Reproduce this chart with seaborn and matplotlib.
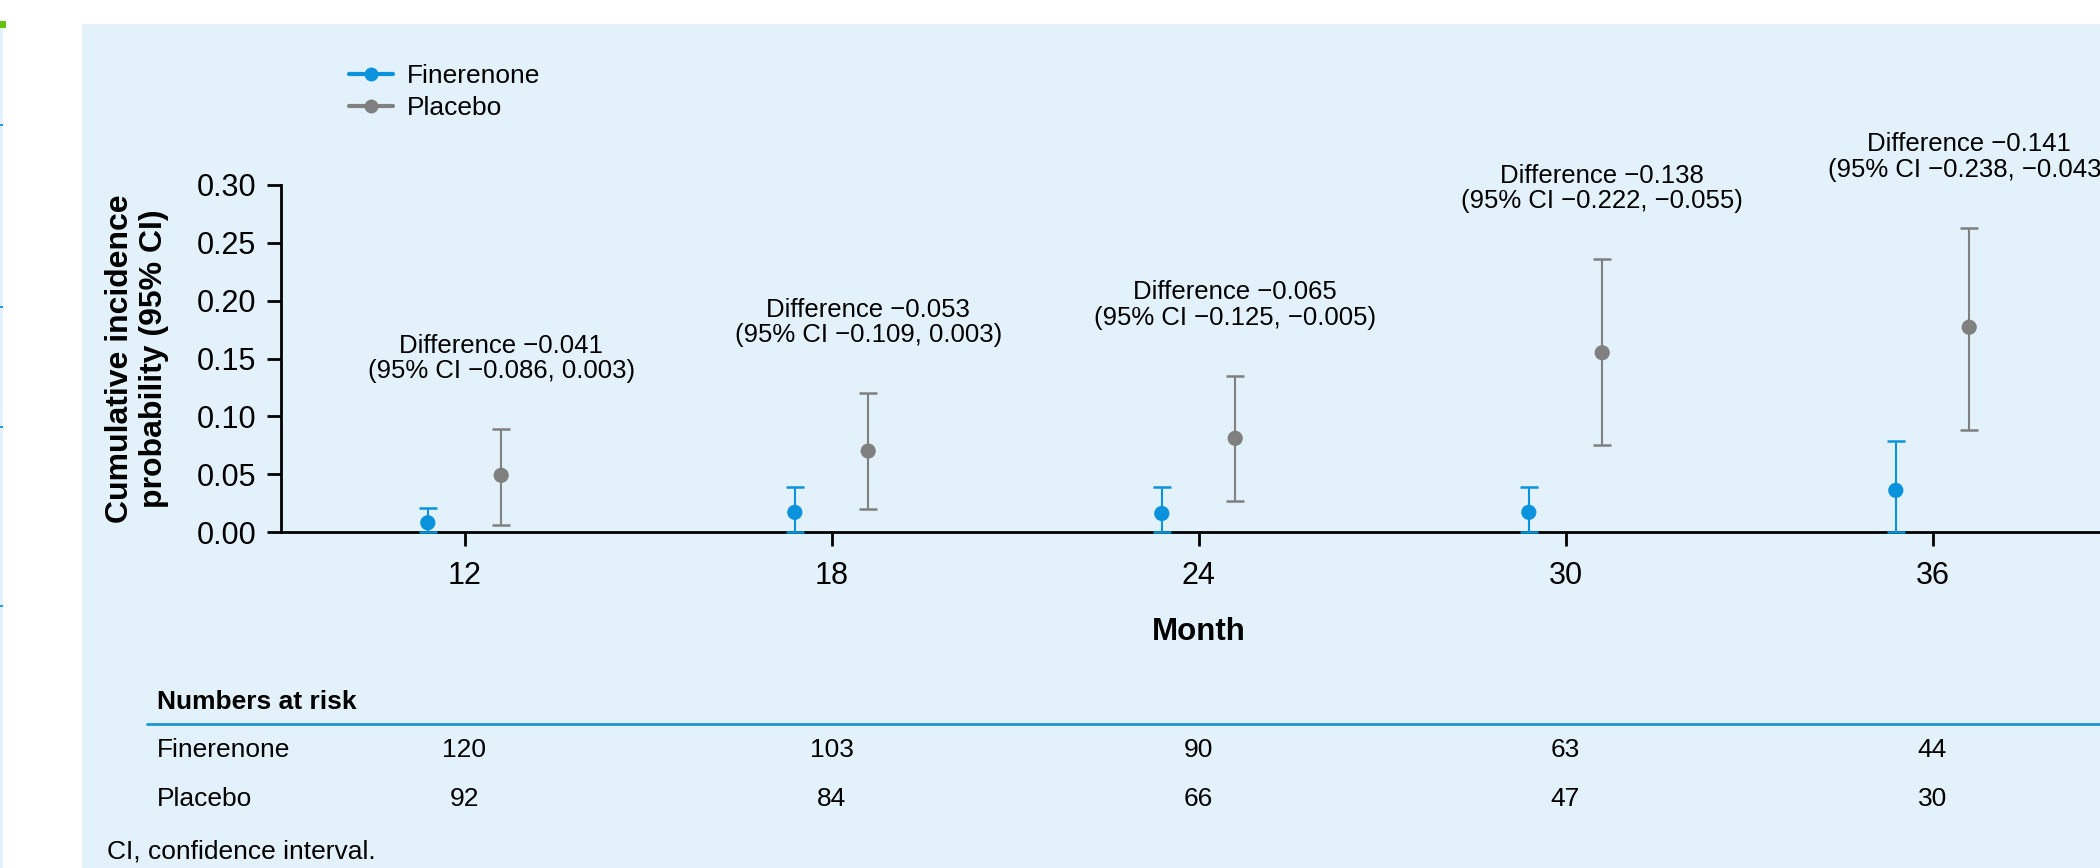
"""
Cumulative incidence by month, finerenone vs placebo, with numbers at risk.
"""

import matplotlib
matplotlib.use('Agg')
import matplotlib.pyplot as plt
import matplotlib.transforms as mtransforms
from matplotlib.lines import Line2D
from matplotlib.patches import Rectangle
import numpy as np
import pandas as pd
import seaborn as sns

# ---- data ----
months = [12, 18, 24, 30, 36]
groups = ['Finerenone', 'Placebo']

fin_est = [0.008, 0.017, 0.016, 0.017, 0.036]
fin_lo = [0.000, 0.000, 0.000, 0.000, 0.000]
fin_hi = [0.021, 0.039, 0.039, 0.039, 0.079]

pla_est = [0.049, 0.070, 0.081, 0.155, 0.177]
pla_lo = [0.006, 0.020, 0.027, 0.075, 0.088]
pla_hi = [0.089, 0.120, 0.135, 0.236, 0.263]

diff_labels = [
    'Difference \u22120.041\n(95% CI \u22120.086, 0.003)',
    'Difference \u22120.053\n(95% CI \u22120.109, 0.003)',
    'Difference \u22120.065\n(95% CI \u22120.125, \u22120.005)',
    'Difference \u22120.138\n(95% CI \u22120.222, \u22120.055)',
    'Difference \u22120.141\n(95% CI \u22120.238, \u22120.043)',
]

risk_fin = [120, 103, 90, 63, 44]
risk_pla = [92, 84, 66, 47, 30]

y_ticks = [0.00, 0.05, 0.10, 0.15, 0.20, 0.25, 0.30]

BLUE = '#0a93dc'
GREY = '#808080'
PANEL = '#e3f2fa'
colors = {'Finerenone': BLUE, 'Placebo': GREY}
offsets = {'Finerenone': -0.6, 'Placebo': 0.6}

df = pd.DataFrame({
    'month': months * 2,
    'group': ['Finerenone'] * 5 + ['Placebo'] * 5,
    'est': fin_est + pla_est,
    'lo': fin_lo + pla_lo,
    'hi': fin_hi + pla_hi,
})
df['xpos'] = df['month'] + df['group'].map(offsets)

sns.set_theme(style='white')
plt.rcParams['font.family'] = ['Liberation Sans', 'DejaVu Sans']
plt.rcParams['text.color'] = 'black'
plt.rcParams['axes.labelcolor'] = 'black'

W, H = 2100, 868
fig = plt.figure(figsize=(W / 100, H / 100), dpi=100)
fig.patch.set_facecolor('white')

# light blue panel and the page edge decorations
fig.patches.append(Rectangle((82 / W, 0), 1, 1 - 24 / H, transform=fig.transFigure,
                             facecolor=PANEL, edgecolor='none', zorder=-2))
fig.patches.append(Rectangle((0, 0), 3 / W, 1 - 28 / H, transform=fig.transFigure,
                             facecolor=PANEL, edgecolor='none', zorder=-2))
fig.patches.append(Rectangle((0, 1 - 28 / H), 6 / W, 7 / H, transform=fig.transFigure,
                             facecolor='#66c010', edgecolor='none', zorder=-2))
for yy in [125, 307, 427, 606]:
    fig.patches.append(Rectangle((0, 1 - (yy + 1) / H), 3 / W, 2 / H, transform=fig.transFigure,
                                 facecolor='#2a9de0', edgecolor='none', zorder=-1))

left, right, bottom, top = 281, 2116, 532, 185
ax = fig.add_axes([left / W, 1 - bottom / H, (right - left) / W, (bottom - top) / H])
ax.set_facecolor('none')
ax.set_zorder(2)

# error bars
for g in groups:
    sub = df[df['group'] == g]
    ax.errorbar(sub['xpos'], sub['est'],
                yerr=[sub['est'] - sub['lo'], sub['hi'] - sub['est']],
                fmt='none', ecolor=colors[g], elinewidth=1.5, capsize=6.2,
                capthick=1.8, clip_on=False, zorder=3)

# points
sns.scatterplot(data=df, x='xpos', y='est', hue='group', palette=colors,
                s=120, edgecolor='none', legend=False, ax=ax, zorder=4, clip_on=False)

# difference annotations above the placebo bars
for (_, row), lab in zip(df[df['group'] == 'Placebo'].iterrows(), diff_labels):
    ax.annotate(lab, xy=(row['xpos'], row['hi']), xytext=(0, 33),
                textcoords='offset points', ha='center', va='bottom',
                fontsize=18.5, linespacing=1.08, annotation_clip=False)

ax.set_xlim(9, 39)
ax.set_ylim(0, 0.30)
ax.set_xticks(months)
ax.set_xticklabels([str(m) for m in months])
ax.set_yticks(y_ticks)
ax.set_yticklabels([f'{v:.2f}' for v in y_ticks])
ax.tick_params(axis='both', which='major', direction='out', length=10, width=2,
               color='black', labelsize=22, labelcolor='black',
               bottom=True, left=True)
ax.tick_params(axis='y', pad=8)
ax.tick_params(axis='x', pad=11)
for side in ['top', 'right']:
    ax.spines[side].set_visible(False)
for side in ['left', 'bottom']:
    ax.spines[side].set_color('black')
    ax.spines[side].set_linewidth(2)

ax.set_xlabel('Month', fontsize=22.5, fontweight='bold', va='center')
ax.xaxis.set_label_coords(0.5, -(632 - bottom) / (bottom - top))
ax.set_ylabel('Cumulative incidence\nprobability (95% CI)', fontsize=23,
              fontweight='bold', va='center', linespacing=1.15)
ax.yaxis.set_label_coords(-(left - 137) / (right - left), 0.5)

# legend
handles = [Line2D([], [], color=colors[g], lw=3, marker='o', markersize=9) for g in groups]
fig.legend(handles, groups, loc='upper left', bbox_to_anchor=(349 / W, 1 - 64 / H),
           frameon=False, fontsize=19, handlelength=1.65, handletextpad=0.55,
           labelspacing=0.3, borderpad=0, borderaxespad=0)

# numbers at risk table
blend = mtransforms.blended_transform_factory(ax.transData, fig.transFigure)
fig.text(157 / W, 1 - 702 / H, 'Numbers at risk', fontsize=19, fontweight='bold', va='center')
fig.add_artist(Line2D([147 / W, 1], [1 - 724 / H, 1 - 724 / H], transform=fig.transFigure,
                      color='#1a96d8', lw=2))
fig.text(157 / W, 1 - 750 / H, 'Finerenone', fontsize=19, va='center')
fig.text(157 / W, 1 - 799 / H, 'Placebo', fontsize=19, va='center')
for m, a, b in zip(months, risk_fin, risk_pla):
    ax.text(m, 1 - 750 / H, str(a), transform=blend, fontsize=19, ha='center', va='center')
    ax.text(m, 1 - 799 / H, str(b), transform=blend, fontsize=19, ha='center', va='center')

fig.text(107 / W, 1 - 852 / H, 'CI, confidence interval.', fontsize=19, va='center')

fig.savefig('out.png', dpi=100, facecolor=fig.get_facecolor())
plt.close(fig)
